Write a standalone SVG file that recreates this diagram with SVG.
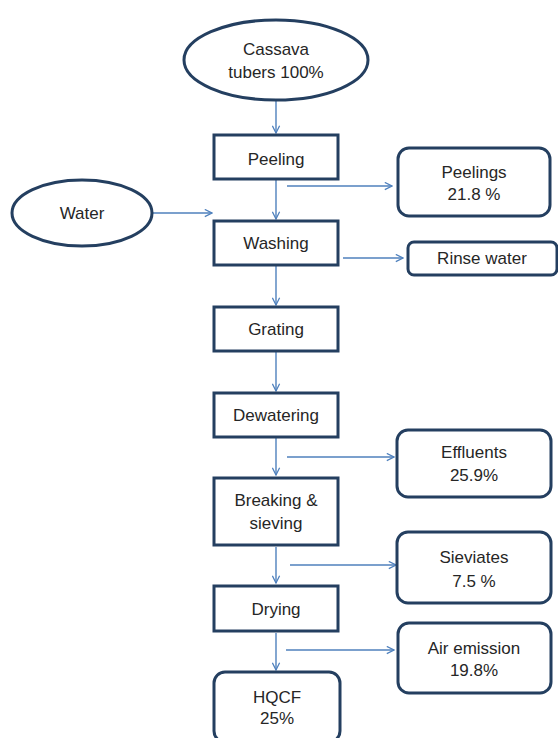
<svg xmlns="http://www.w3.org/2000/svg" width="558" height="738" viewBox="0 0 558 738">
<defs>
<style>
.box{fill:#fff;stroke:#243F60;stroke-width:3}
.t{font-family:"Liberation Sans",Arial,sans-serif;font-size:17px;fill:#262626;text-anchor:middle}
.c{stroke:#4F81BD;stroke-width:1.4;fill:none;marker-end:url(#ah)}
</style>
<marker id="ah" viewBox="0 0 10 10" refX="9" refY="5" markerWidth="9" markerHeight="9" markerUnits="userSpaceOnUse" orient="auto">
<path d="M1,1 L9,5 L1,9" fill="none" stroke="#4F81BD" stroke-width="1.4"/>
</marker>
</defs>
<rect width="558" height="738" fill="#fff"/>
<g id="connectors">
<line class="c" x1="276" y1="100" x2="276" y2="133"/>
<line class="c" x1="276" y1="180" x2="276" y2="219"/>
<line class="c" x1="287" y1="186" x2="392" y2="186"/>
<line class="c" x1="152" y1="213" x2="212" y2="213"/>
<line class="c" x1="343" y1="258" x2="403" y2="258"/>
<line class="c" x1="276" y1="266" x2="276" y2="305"/>
<line class="c" x1="276" y1="352" x2="276" y2="391"/>
<line class="c" x1="276" y1="438" x2="276" y2="475"/>
<line class="c" x1="287" y1="457" x2="394" y2="457"/>
<line class="c" x1="276" y1="547" x2="276" y2="583"/>
<line class="c" x1="290" y1="565" x2="396" y2="565"/>
<line class="c" x1="276" y1="633" x2="276" y2="670"/>
<line class="c" x1="286" y1="650" x2="394" y2="650"/>
</g>
<g id="cassava"><ellipse class="box" cx="276" cy="60" rx="92" ry="40"/><text class="t" x="276" y="55">Cassava</text><text class="t" x="276" y="78">tubers 100%</text></g>
<g id="peeling"><rect class="box" x="214" y="135" width="124" height="44"/><text class="t" x="276" y="165">Peeling</text></g>
<g id="peelings"><rect class="box" x="398" y="148" width="152" height="68" rx="11"/><text class="t" x="474" y="178">Peelings</text><text class="t" x="474" y="200">21.8 %</text></g>
<g id="water"><ellipse class="box" cx="82" cy="213" rx="70" ry="33"/><text class="t" x="82" y="219">Water</text></g>
<g id="washing"><rect class="box" x="214" y="221" width="124" height="44"/><text class="t" x="276" y="249">Washing</text></g>
<g id="rinse"><rect class="box" x="408" y="242" width="149" height="33" rx="6"/><text class="t" x="482" y="264">Rinse water</text></g>
<g id="grating"><rect class="box" x="214" y="307" width="124" height="44"/><text class="t" x="276" y="335">Grating</text></g>
<g id="dewatering"><rect class="box" x="214" y="393" width="124" height="44"/><text class="t" x="276" y="421">Dewatering</text></g>
<g id="effluents"><rect class="box" x="397" y="430" width="154" height="67" rx="11"/><text class="t" x="474" y="458">Effluents</text><text class="t" x="474" y="481">25.9%</text></g>
<g id="breaking"><rect class="box" x="214" y="478" width="124" height="67"/><text class="t" x="276" y="506">Breaking &amp;</text><text class="t" x="276" y="529">sieving</text></g>
<g id="sieviates"><rect class="box" x="397" y="532" width="154" height="71" rx="11"/><text class="t" x="474" y="563">Sieviates</text><text class="t" x="474" y="587">7.5 %</text></g>
<g id="drying"><rect class="box" x="214" y="586" width="124" height="45"/><text class="t" x="276" y="615">Drying</text></g>
<g id="air"><rect class="box" x="398" y="623" width="153" height="70" rx="11"/><text class="t" x="474" y="654">Air emission</text><text class="t" x="474" y="676">19.8%</text></g>
<g id="hqcf"><rect class="box" x="214" y="672" width="126" height="70" rx="11"/><text class="t" x="277" y="703">HQCF</text><text class="t" x="277" y="724">25%</text></g>
</svg>
